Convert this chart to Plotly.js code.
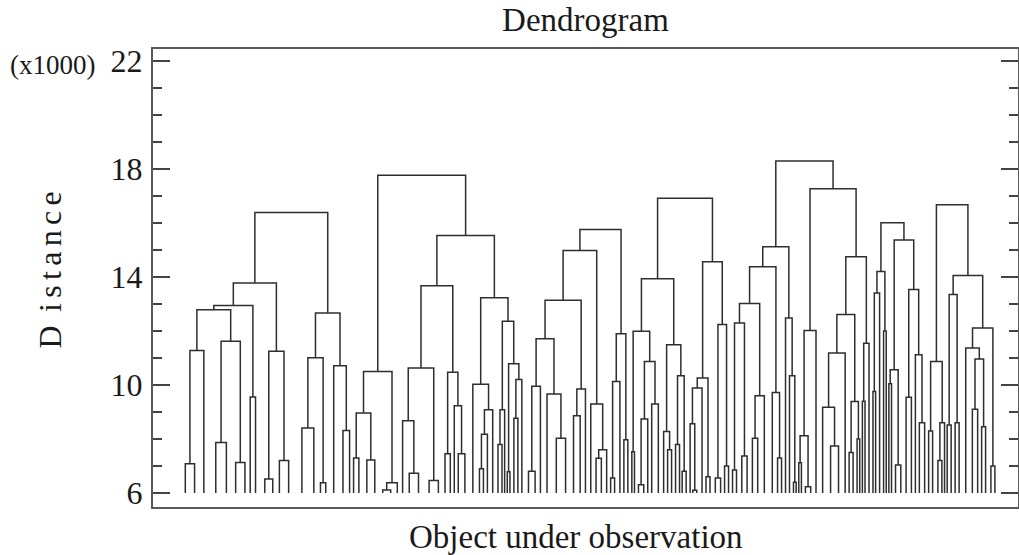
<!DOCTYPE html>
<html>
<head>
<meta charset="utf-8">
<script src="https://cdn.plot.ly/plotly-3.0.1.min.js"></script>
<style>html,body{margin:0;padding:0;background:#fff;}#chart{width:1019px;height:555px;}</style>
</head>
<body>
<div id="chart"></div>
<script>
// Dendrogram data: each node is [mergeDistance (x1000), left, right];
// a plain number is a bottom cluster (count of objects already joined below 6000).
const baseline = 6;
const clusterA = [16.39,
  [13.78,
    [12.95, [12.79, [11.28, [7.08, 4, 3], 4], [11.62, [7.87, 5, 3], [7.13, 4, 3]]], [9.56, 1, 3]],
    [11.25, [6.52, 4, 2], [7.2, 3, 4]]],
  [12.67, [11.01, [8.41, 6, 3], [6.38, 2, 2]], [10.71, 4, [8.31, 3, 2]]]];
const clusterB = [17.77,
  [10.5, [8.96, [7.3, 1, 3], [7.22, 3, 3]], [6.38, [6.11, 3, 3], 2]],
  [15.54,
    [13.68,
      [10.63, [8.68, 2, [6.73, 3, 4]], [6.46, 4, 3]],
      [10.47, [7.45, 2, 2], [9.23, 1, [7.45, 2, 3]]]],
    [13.23,
      [10.03, 3, [9.08, [8.18, [6.9, 2, 1], 2], 2]],
      [12.36, [9.08, [7.8, 2, 1], 1], [10.79, [6.79, 1, 1], [10.2, [8.77, 2, 1], 2]]]]]];
const clusterC = [15.76,
  [14.98,
    [13.14,
      [11.71, [9.95, [6.8, 3, 2], 2], [9.67, 3, [8.03, 4, 3]]],
      [9.85, [8.86, 3, 2], 2]],
    [9.3, 2, [7.6, [7.29, 2, 2], 2]]],
  [11.9, [10.13, [6.55, 1, 2], 2], [7.97, 1, 2]]];
const clusterD = [16.92,
  [13.94,
    [11.99, [7.53, 1, 1], [10.87, [8.74, [6.3, 2, 2], 1], [9.3, 2, 3]]],
    [11.49, [8.28, 1, [7.6, 2, 1]], [10.34, [7.8, 2, 1], [6.8, 1, 2]]]],
  [14.57,
    [10.26, [9.89, [8.56, 1, [6.1, 1, 2]], 2], [6.6, 1, 2]],
    [12.24, [6.55, 2, 2], [7.0, 1, 2]]]];
const clusterE = [18.3,
  [15.12,
    [14.38,
      [13.02, [12.3, [6.85, 1, 2], [7.37, 2, 2]], [9.6, [8.03, 2, 2], 3]],
      [9.72, 3, [7.3, 1, 2]]],
    [12.48, 1, [10.34, 2, [6.4, 1, 1]]]],
  [17.27,
    [12.02, [8.12, [7.12, 1, 1], [6.23, 2, 2]], 2],
    [14.75,
      [12.61, [11.19, [9.18, 3, [7.74, 3, 3]], 2], [9.39, [7.5, 1, 2], [8.0, 1, 1]]],
      [11.55, [9.4, 1, 1], 2]]]];
const clusterF = [16.01,
  [14.21, [13.41, [9.76, 1, 1], 2], [12.0, 1, 1]],
  [15.37, [10.57, [10.05, 1, 1], [7.04, 2, 2]], [13.54, [9.55, 2, 2], [11.12, 1, [8.6, 2, 2]]]]];
const clusterG = [16.68,
  [10.87, [8.3, 1, 2], [8.6, [7.2, 2, 1], 1]],
  [14.06,
    [13.35, [8.52, 1, 2], [8.6, 1, 2]],
    [12.11, [11.37, 3, [10.96, [9.1, 2, 2], [8.45, 1, 2]]], [7.0, 2, 1]]]];
const clusters = [clusterA, clusterB, clusterC, clusterD, clusterE, clusterF, clusterG];
const yTickVals = [6, 10, 14, 18, 22];

// layout the tree: leaves in order, each bottom cluster as wide as its object count
const xs = [], ys = [];
let cursor = 0;
function walk(node) {
  if (typeof node === 'number') {
    const x = cursor + node / 2;
    cursor += node;
    return {x: x, h: baseline};
  }
  const h = node[0];
  const l = walk(node[1]);
  const r = walk(node[2]);
  xs.push(l.x, l.x, r.x, r.x, null);
  ys.push(l.h, h, h, r.h, null);
  return {x: (l.x + r.x) / 2, h: h};
}
clusters.forEach(walk);

const serif = 'Liberation Serif, Times New Roman, serif';
const trace = {
  x: xs, y: ys, type: 'scatter', mode: 'lines',
  line: {color: '#2e2e2e', width: 1.5},
  hoverinfo: 'skip', showlegend: false
};
const pxPerUnit = 2.65;
const layout = {
  width: 1019, height: 555,
  margin: {l: 153, r: 1, t: 49, b: 48, pad: 0},
  paper_bgcolor: '#fff', plot_bgcolor: '#fff',
  title: {text: 'Dendrogram', font: {family: serif, size: 33, color: '#1a1a1a'},
          x: 0.5, xref: 'paper', xanchor: 'center', y: 0.965, yref: 'container', yanchor: 'middle'},
  xaxis: {
    range: [-27 / pxPerUnit, 838 / pxPerUnit],
    showgrid: false, zeroline: false, showticklabels: false, ticks: '',
    showline: true, linecolor: '#5a5a5a', linewidth: 2, mirror: true, fixedrange: true
  },
  yaxis: {
    range: [5.48, 22.45],
    tickvals: yTickVals, ticktext: yTickVals.map(String),
    ticks: 'inside', ticklen: 17, tickwidth: 1.5, tickcolor: '#444',
    minor: {dtick: 1, tick0: 6, ticks: 'inside', ticklen: 9, tickwidth: 1.5, tickcolor: '#444', showgrid: false},
    showgrid: false, zeroline: false,
    showline: true, linecolor: '#5a5a5a', linewidth: 2, mirror: 'allticks',
    tickfont: {family: serif, size: 32, color: '#1a1a1a'},
    ticklabelstandoff: 2, fixedrange: true
  },
  annotations: [
    {text: '(x1000)', xref: 'paper', yref: 'y', x: -56 / 865, y: 21.85, xanchor: 'right', yanchor: 'middle',
     showarrow: false, font: {family: serif, size: 27, color: '#1a1a1a'}},
    {text: 'Object under observation', xref: 'paper', yref: 'paper', x: (576 - 153) / 865, y: -30 / 459,
     xanchor: 'center', yanchor: 'middle', showarrow: false, font: {family: serif, size: 33, color: '#1a1a1a'}},
    {text: 'D\u2006 i\u2006s\u2006t\u2006a\u2006n\u2006c\u2006e', xref: 'paper', yref: 'paper',
     x: (50 - 153) / 865, y: (507 - 270) / 459, textangle: -90,
     xanchor: 'center', yanchor: 'middle', showarrow: false, font: {family: serif, size: 32, color: '#1a1a1a'}}
  ]
};
Plotly.newPlot('chart', [trace], layout, {displayModeBar: false, staticPlot: true});
</script>
</body>
</html>
